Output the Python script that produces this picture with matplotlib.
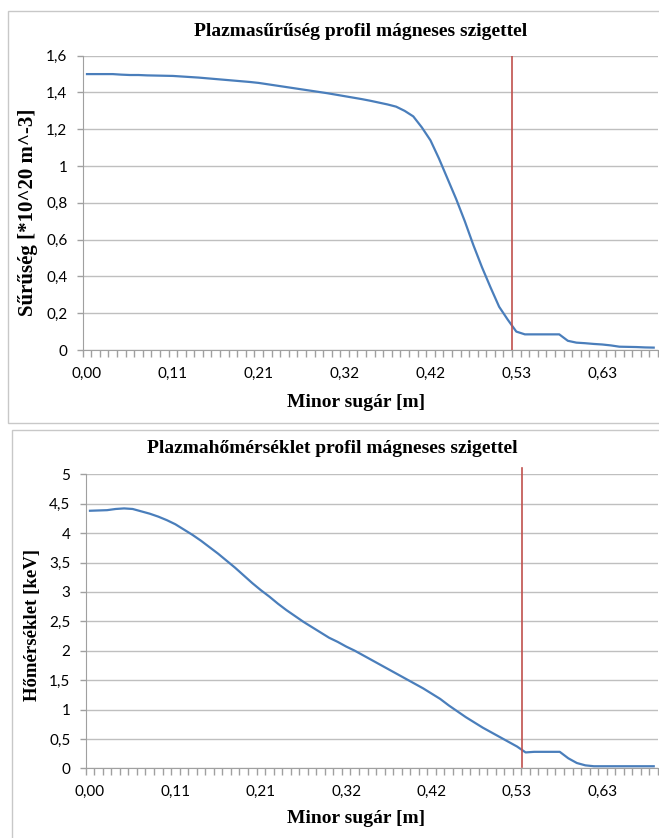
import matplotlib.pyplot as plt
from matplotlib.patches import Rectangle
import numpy as np

# density profile, one value per radius category (Excel line chart)
density = [1.50, 1.50, 1.50, 1.50, 1.497, 1.495, 1.495, 1.493, 1.492, 1.491,
           1.490, 1.487, 1.484, 1.481, 1.477, 1.473, 1.469, 1.465, 1.461, 1.457,
           1.452, 1.445, 1.438, 1.431, 1.424, 1.417, 1.410, 1.403, 1.396, 1.388,
           1.380, 1.372, 1.364, 1.355, 1.345, 1.335, 1.323, 1.300, 1.270, 1.210,
           1.140, 1.040, 0.930, 0.820, 0.700, 0.570, 0.450, 0.340, 0.235, 0.165,
           0.100, 0.085, 0.085, 0.085, 0.085, 0.085, 0.050, 0.040, 0.037, 0.033,
           0.030, 0.025, 0.018, 0.017, 0.016, 0.014, 0.013]

temperature = [4.38, 4.385, 4.39, 4.41, 4.42, 4.41, 4.37, 4.33, 4.28, 4.22,
               4.15, 4.06, 3.97, 3.87, 3.76, 3.65, 3.53, 3.41, 3.28, 3.15,
               3.03, 2.92, 2.80, 2.69, 2.59, 2.49, 2.40, 2.31, 2.22, 2.15,
               2.07, 2.00, 1.92, 1.84, 1.76, 1.68, 1.60, 1.52, 1.44, 1.36,
               1.27, 1.18, 1.07, 0.97, 0.87, 0.78, 0.69, 0.61, 0.53, 0.45,
               0.37, 0.27, 0.28, 0.28, 0.28, 0.28, 0.17, 0.09, 0.05, 0.035,
               0.035, 0.035, 0.035, 0.035, 0.035, 0.035, 0.035]

xtick_labels = ["0,00", "0,11", "0,21", "0,32", "0,42", "0,53", "0,63"]
dens_ticks = [0, 0.2, 0.4, 0.6, 0.8, 1, 1.2, 1.4, 1.6]
dens_tick_labels = ["0", "0,2", "0,4", "0,6", "0,8", "1", "1,2", "1,4", "1,6"]
temp_ticks = [0, 0.5, 1, 1.5, 2, 2.5, 3, 3.5, 4, 4.5, 5]
temp_tick_labels = ["0", "0,5", "1", "1,5", "2", "2,5", "3", "3,5", "4", "4,5", "5"]
island_dens = 49.5   # red marker, in category units
island_temp = 50.6

W, H = 659, 838
fig = plt.figure(figsize=(W / 100, H / 100), dpi=100)

def fx(px):
    return px / W

def fy(py):
    return 1 - py / H

# chart frames
fig.patches.append(Rectangle((fx(8), fy(423)), fx(660 - 8), (423 - 11) / H,
                             transform=fig.transFigure, fill=False,
                             edgecolor='#C8C8C8', lw=1))
fig.patches.append(Rectangle((fx(12), fy(845)), fx(660 - 12), (845 - 430) / H,
                             transform=fig.transFigure, fill=False,
                             edgecolor='#C8C8C8', lw=1))

blue = '#4A7EBB'
red = '#C0504D'
grid_c = '#BFBFBF'
axis_c = '#A0A0A0'
tick_font = 'Lato'
serif = 'Liberation Serif'


def style(ax, y, yticks, ylabels, ymax):
    n = len(y)
    x = np.arange(n)
    ax.plot(x, y, color=blue, lw=1.6, zorder=3)
    ax.set_xlim(-0.5, n - 0.5)
    ax.set_ylim(0, ymax)
    ax.set_yticks(yticks)
    ax.set_yticklabels(ylabels, fontsize=11, family=tick_font)
    ax.set_xticks(np.arange(0, n, 10))
    ax.set_xticklabels(xtick_labels, fontsize=11, family=tick_font)
    ax.set_xticks(np.arange(-0.5, n, 1), minor=True)
    ax.tick_params(axis='x', which='major', length=0, pad=12)
    ax.tick_params(axis='x', which='minor', length=5, color=axis_c, width=1)
    ax.tick_params(axis='y', length=4, color=axis_c, width=1, pad=7)
    ax.grid(axis='y', color=grid_c, lw=1)
    ax.set_axisbelow(True)
    for s in ['top', 'right']:
        ax.spines[s].set_visible(False)
    for s in ['left', 'bottom']:
        ax.spines[s].set_color(axis_c)


ax1 = fig.add_axes([fx(82.7), fy(350), (658 - 82.7) / W, (350 - 55.7) / H])
style(ax1, density, dens_ticks, dens_tick_labels, 1.6)
ax1.axvline(island_dens, color=red, lw=1.2, zorder=4)

ax2 = fig.add_axes([fx(85.7), fy(768.3), (658 - 85.7) / W, (768.3 - 474.3) / H])
style(ax2, temperature, temp_ticks, temp_tick_labels, 5)
ax2.axvline(island_temp, ymin=0.005, ymax=1.02, color=red, lw=1.2, zorder=4,
            clip_on=False)

fig.text(fx(361), fy(32), "Plazmasűrűség profil mágneses szigettel",
         ha='center', va='center', fontsize=14, fontweight='bold', family=serif)
fig.text(fx(332), fy(448), "Plazmahőmérséklet profil mágneses szigettel",
         ha='center', va='center', fontsize=14, fontweight='bold', family=serif)
fig.text(fx(28), fy(212), "Sűrűség [*10^20 m^-3]", rotation=90,
         ha='center', va='center', fontsize=15, fontweight='bold', family=serif)
fig.text(fx(33), fy(625), "Hőmérséklet [keV]", rotation=90,
         ha='center', va='center', fontsize=13.5, fontweight='bold', family=serif)
fig.text(fx(356), fy(402), "Minor sugár [m]",
         ha='center', va='center', fontsize=14, fontweight='bold', family=serif)
fig.text(fx(356), fy(818), "Minor sugár [m]",
         ha='center', va='center', fontsize=14, fontweight='bold', family=serif)

fig.savefig('out.png', dpi=100)
